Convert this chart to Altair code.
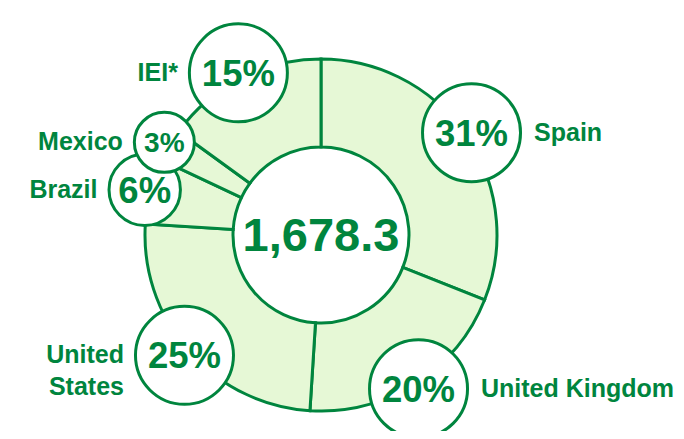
import math
import numpy as np
import pandas as pd
import altair as alt

# ---- data ----
regions = ["Spain", "United Kingdom", "United States", "Brazil", "Mexico", "IEI*"]
labels = ["Spain", "United Kingdom", "United\nStates", "Brazil", "Mexico", "IEI*"]
shares = [31, 20, 25, 6, 3, 15]
total_text = "1,678.3"

# ---- style / layout ----
DARK = "#00853E"
LIGHT = "#E6F8D6"
FONT = "Liberation Sans"
W, H = 668, 423
CX, CY = 313, 227
R_IN, R_OUT = 88, 176
R_CALLOUT = 182
SIZE_DOM, SIZE_RNG = [3, 15], [3600, 9604]

df = pd.DataFrame({"region": regions, "label": labels, "share": shares})
df["order"] = range(len(df))
df["pct"] = df["share"].astype(str) + "%"
total = df["share"].sum()
mid = (df["share"].cumsum() - df["share"] / 2) / total * 2 * math.pi
df["x"] = CX + R_CALLOUT * np.sin(mid)
df["y"] = CY - R_CALLOUT * np.cos(mid)
# circle radius implied by the size scale (size = diameter^2)
frac = ((df["share"] - SIZE_DOM[0]) / (SIZE_DOM[1] - SIZE_DOM[0])).clip(0, 1)
rad = np.sqrt(SIZE_RNG[0] + frac * (SIZE_RNG[1] - SIZE_RNG[0])) / 2 + 1.5
df["side"] = np.where(np.sin(mid) > 0, "right", "left")
df["lx"] = np.where(df["side"] == "right", df["x"] + rad + 12, df["x"] - rad - 10)

xs = alt.Scale(domain=[0, W], nice=False, zero=False)
ys = alt.Scale(domain=[H, 0], nice=False, zero=False)

base = alt.Chart(df)

arcs = base.mark_arc(
    innerRadius=R_IN, outerRadius=R_OUT, fill=LIGHT, stroke=DARK, strokeWidth=3
).encode(
    theta=alt.Theta("share:Q", stack=True),
    order=alt.Order("order:Q"),
    x=alt.value(CX),
    y=alt.value(CY),
)

center = alt.Chart(pd.DataFrame({"t": [total_text]})).mark_text(
    font=FONT, fontWeight="bold", fontSize=47, color=DARK,
    align="center", baseline="middle", dy=2
).encode(text="t:N", x=alt.value(CX), y=alt.value(CY))

circles = base.mark_point(
    shape="circle", filled=True, fill="white", stroke=DARK, strokeWidth=3,
    opacity=1, fillOpacity=1, strokeOpacity=1
).encode(
    x=alt.X("x:Q", scale=xs, axis=None),
    y=alt.Y("y:Q", scale=ys, axis=None),
    size=alt.Size("share:Q", scale=alt.Scale(domain=SIZE_DOM, range=SIZE_RNG, clamp=True), legend=None),
)

pcts = base.mark_text(
    font=FONT, fontWeight="bold", color=DARK, align="center", baseline="middle", dy=2
).encode(
    x=alt.X("x:Q", scale=xs, axis=None),
    y=alt.Y("y:Q", scale=ys, axis=None),
    text="pct:N",
    size=alt.Size("share:Q", scale=alt.Scale(domain=[3, 6], range=[28, 36.5], clamp=True), legend=None),
)

lab_left = base.transform_filter("datum.side == 'left'").mark_text(
    font=FONT, fontWeight="bold", fontSize=25, color=DARK, align="right",
    baseline="middle", lineBreak="\n", lineHeight=32
).encode(
    x=alt.X("lx:Q", scale=xs, axis=None),
    y=alt.Y("y:Q", scale=ys, axis=None),
    text="label:N",
)

lab_right = base.transform_filter("datum.side == 'right'").mark_text(
    font=FONT, fontWeight="bold", fontSize=25, color=DARK, align="left",
    baseline="middle", lineBreak="\n", lineHeight=32
).encode(
    x=alt.X("lx:Q", scale=xs, axis=None),
    y=alt.Y("y:Q", scale=ys, axis=None),
    text="label:N",
)

chart = alt.layer(arcs, center, circles, pcts, lab_left, lab_right).resolve_scale(
    size="independent"
).properties(
    width=W, height=H, padding=0, autosize=alt.AutoSizeParams(type="none")
).configure_view(stroke=None)

chart.save("out.html", embed_options={"renderer": "svg", "actions": False})
